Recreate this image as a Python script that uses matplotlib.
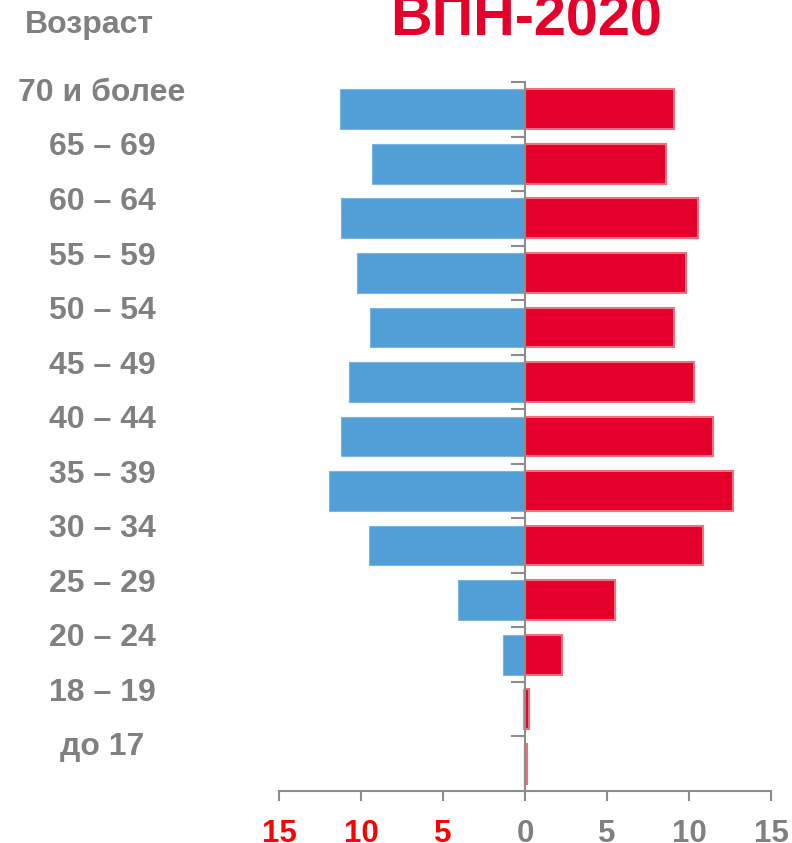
import matplotlib
matplotlib.use('Agg')
import matplotlib.pyplot as plt
import numpy as np

plt.rcParams['font.family'] = ['Liberation Sans', 'DejaVu Sans']
plt.rcParams['font.weight'] = 'bold'

# возрастные группы сверху вниз
ages = ['70 и более', '65 – 69', '60 – 64', '55 – 59', '50 – 54', '45 – 49',
        '40 – 44', '35 – 39', '30 – 34', '25 – 29', '20 – 24', '18 – 19', 'до 17']
# левая сторона (синие), %
left_vals = [11.3, 9.3, 11.2, 10.25, 9.45, 10.75, 11.2, 11.95, 9.5, 4.1, 1.35, 0.12, 0.03]
# правая сторона (красные), %
right_vals = [9.1, 8.6, 10.55, 9.8, 9.1, 10.3, 11.45, 12.7, 10.85, 5.5, 2.25, 0.25, 0.1]

xticks = [-15, -10, -5, 0, 5, 10, 15]
xtick_labels = ['15', '10', '5', '0', '5', '10', '15']

gray = '#808080'
axis_gray = '#8c8c8c'
blue = '#519FD6'
red = '#E4002B'

fig = plt.figure(figsize=(7.92, 8.43), dpi=100)
ax = fig.add_axes([279/792, 1 - 791/843, 492/792, (791 - 82)/843])

y = np.arange(len(ages))[::-1]
ax.barh(y, -np.array(left_vals), height=0.73, color=blue, edgecolor='#7bb5e0', linewidth=0.8)
ax.barh(y, right_vals, height=0.73, color=red, edgecolor='#F0707F', linewidth=1.5)

ax.set_xlim(-15, 15)
ax.set_ylim(-0.5, 12.5)

ax.spines['top'].set_visible(False)
ax.spines['right'].set_visible(False)
ax.spines['left'].set_position(('data', 0))
ax.spines['left'].set_color(axis_gray)
ax.spines['left'].set_linewidth(1.5)
ax.spines['left'].set_zorder(3)
ax.spines['bottom'].set_color(axis_gray)
ax.spines['bottom'].set_linewidth(1.5)

ax.set_yticks(np.arange(0.5, 13, 1))
ax.set_yticklabels([])
ax.tick_params(axis='y', direction='out', length=10, width=1.5, color=axis_gray)

ax.set_xticks(xticks)
ax.set_xticklabels(xtick_labels, fontsize=22.5, fontweight='bold')
ax.tick_params(axis='x', direction='out', length=7, width=1.5, color=axis_gray, pad=13)
for i, lab in enumerate(ax.get_xticklabels()):
    lab.set_color('#ff0000' if i < 3 else gray)

# подписи групп, центрированы слева
trans = matplotlib.transforms.blended_transform_factory(fig.transFigure, ax.transData)
for yy, name in zip(y, ages):
    ax.text(102/792, yy + 0.3, name, transform=trans, ha='center', va='center',
            fontsize=23, fontweight='bold', color=gray, clip_on=False)

fig.text(25/792, 1 - 33/843, 'Возраст', ha='left', va='baseline',
         fontsize=23, fontweight='bold', color=gray)
fig.text(526/792, 1 - 35/843, 'ВПН-2020', ha='center', va='baseline',
         fontsize=41.5, fontweight='bold', color=red)

fig.savefig('out.png', dpi=100)
